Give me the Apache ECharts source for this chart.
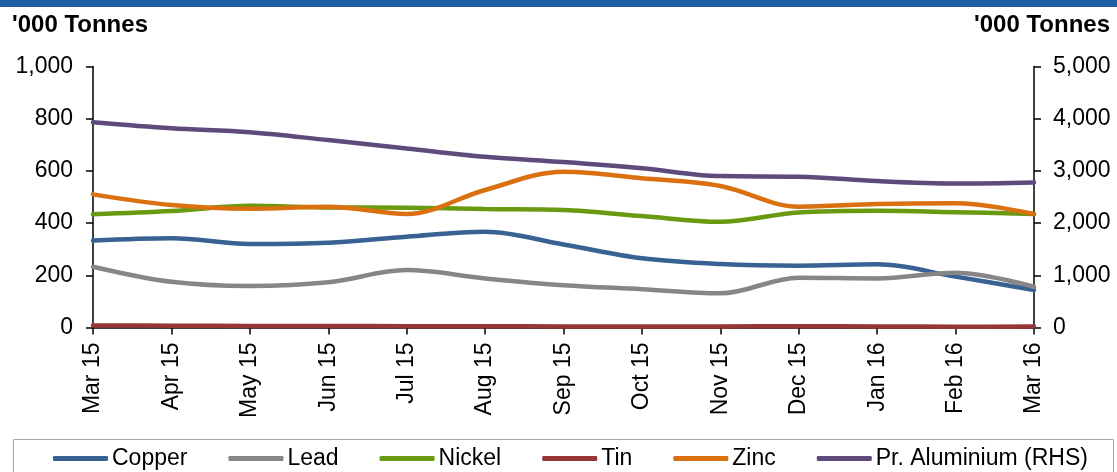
<!DOCTYPE html>
<html>
<head>
<meta charset="utf-8">
<script src="https://cdn.jsdelivr.net/npm/echarts@6/dist/echarts.min.js"></script>
<style>
  html, body { margin: 0; padding: 0; background: #fff; }
  #chart { width: 1117px; height: 472px; }
</style>
</head>
<body>
<div id="chart"></div>
<script>
// Monthly metal stocks, '000 tonnes
const months = ['Mar 15', 'Apr 15', 'May 15', 'Jun 15', 'Jul 15', 'Aug 15', 'Sep 15',
                'Oct 15', 'Nov 15', 'Dec 15', 'Jan 16', 'Feb 16', 'Mar 16'];
const copper    = [333, 342, 320, 325, 348, 367, 318, 265, 243, 237, 242, 195, 144];
const lead      = [233, 175, 159, 173, 220, 188, 162, 147, 131, 191, 188, 210, 156];
const nickel    = [434, 446, 466, 460, 459, 454, 450, 427, 405, 441, 447, 442, 435];
const tin       = [8, 7, 6, 6, 5, 5, 4, 4, 4, 5, 4, 3, 4];
const zinc      = [510, 469, 455, 463, 435, 527, 597, 572, 542, 463, 473, 476, 435];
const aluminium = [3930, 3815, 3740, 3590, 3430, 3270, 3170, 3050, 2900, 2890, 2805, 2760, 2780];

const leftTicks  = { min: 0, max: 1000, interval: 200 };
const rightTicks = { min: 0, max: 5000, interval: 1000 };

const FONT = '"Liberation Sans", Arial, sans-serif';
const fmt = v => v.toLocaleString('en-US');

const seriesDefs = [
  { name: 'Copper', data: copper, color: '#386194', axis: 0 },
  { name: 'Lead', data: lead, color: '#868686', axis: 0 },
  { name: 'Nickel', data: nickel, color: '#6a9a12', axis: 0 },
  { name: 'Tin', data: tin, color: '#973636', axis: 0 },
  { name: 'Zinc', data: zinc, color: '#da700f', axis: 0 },
  { name: 'Pr. Aluminium (RHS)', data: aluminium, color: '#5f4a7c', axis: 1 }
];

const axisLine = { show: true, lineStyle: { color: '#000', width: 1.5 } };
const tick = { show: true, length: 7, lineStyle: { color: '#000', width: 1.5 } };

const chart = echarts.init(document.getElementById('chart'), null, { renderer: 'canvas' });
chart.setOption({
  animation: false,
  backgroundColor: '#fff',
  textStyle: { fontFamily: FONT },
  grid: { left: 93, right: 83, top: 66.5, bottom: 144.5, containLabel: false },
  graphic: [
    { type: 'rect', left: 0, top: 0, shape: { width: 1117, height: 7 },
      style: { fill: '#1f5fa7' }, silent: true },
    { type: 'text', left: 12, top: 13,
      style: { text: "'000 Tonnes", font: 'bold 24px ' + FONT, fill: '#000' } },
    { type: 'text', right: 7, top: 13,
      style: { text: "'000 Tonnes", font: 'bold 24px ' + FONT, fill: '#000' } },
    { type: 'rect', shape: { x: 13.5, y: 439.5, width: 1100, height: 60 },
      style: { fill: 'none', stroke: '#a6a6a6', lineWidth: 1 }, silent: true, z: -1 }
  ],
  legend: {
    left: 53, top: 447, padding: 0,
    icon: 'roundRect', itemWidth: 55, itemHeight: 5, itemGap: 41,
    textStyle: { fontFamily: FONT, fontSize: 23, color: '#000', lineHeight: 23, padding: [0, 0, 0, -1] },
    data: seriesDefs.map(s => s.name)
  },
  xAxis: {
    type: 'category',
    data: months,
    boundaryGap: false,
    axisLine: axisLine,
    axisTick: Object.assign({ alignWithLabel: true }, tick),
    axisLabel: { rotate: 90, margin: 15, fontSize: 23, color: '#000', fontFamily: FONT, interval: 0 },
    splitLine: { show: false }
  },
  yAxis: [
    {
      type: 'value', position: 'left',
      min: leftTicks.min, max: leftTicks.max, interval: leftTicks.interval,
      axisLine: axisLine,
      axisTick: tick,
      axisLabel: { fontSize: 23, color: '#000', fontFamily: FONT, margin: 20, formatter: fmt },
      splitLine: { show: false }
    },
    {
      type: 'value', position: 'right',
      min: rightTicks.min, max: rightTicks.max, interval: rightTicks.interval,
      axisLine: axisLine,
      axisTick: tick,
      axisLabel: { fontSize: 23, color: '#000', fontFamily: FONT, margin: 19, formatter: fmt },
      splitLine: { show: false }
    }
  ],
  series: seriesDefs.map(s => ({
    name: s.name,
    type: 'line',
    yAxisIndex: s.axis,
    data: s.data,
    smooth: 0.35,
    showSymbol: false,
    symbol: 'none',
    color: s.color,
    lineStyle: { color: s.color, width: 4.5, cap: 'round' },
    itemStyle: { color: s.color },
    z: s.axis === 1 ? 3 : 2
  }))
});
</script>
</body>
</html>
